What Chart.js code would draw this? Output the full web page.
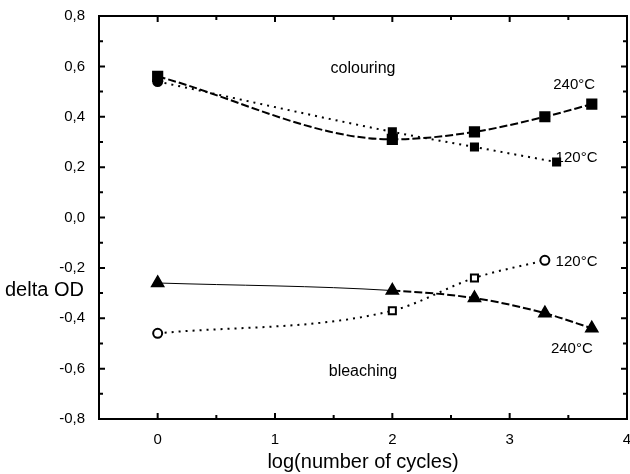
<!DOCTYPE html>
<html>
<head>
<meta charset="utf-8">
<script src="https://cdn.jsdelivr.net/npm/chart.js@4"></script>
<style>
  html, body { margin: 0; padding: 0; background: #fff; }
  #wrap { width: 630px; height: 474px; }
</style>
</head>
<body>
<div id="wrap"><canvas id="chart" width="630" height="474"></canvas></div>
<script>
// values
const xTicks = [0, 1, 2, 3, 4];
const yTicks = [-0.8, -0.6, -0.4, -0.2, 0, 0.2, 0.4, 0.6, 0.8];

const col240x = [0, 2, 2.7, 3.3, 3.7];
const col240y = [0.56, 0.31, 0.34, 0.40, 0.45];

const col120x = [0, 2, 2.7, 3.4];
const col120y = [0.54, 0.34, 0.28, 0.22];

const ble240x = [0, 2, 2.7, 3.3, 3.7];
const ble240y = [-0.26, -0.29, -0.32, -0.38, -0.44];

const ble120x = [0, 2, 2.7, 3.3];
const ble120y = [-0.46, -0.37, -0.24, -0.17];

const labels = [
  { text: 'colouring', x: 1.75, y: 0.59, size: 16 },
  { text: 'bleaching', x: 1.75, y: -0.61, size: 16 },
  { text: '240°C', x: 3.55, y: 0.525, size: 15 },
  { text: '120°C', x: 3.57, y: 0.235, size: 15 },
  { text: '120°C', x: 3.57, y: -0.175, size: 15 },
  { text: '240°C', x: 3.53, y: -0.52, size: 15 }
];

function pts(xs, ys) {
  return xs.map(function(x, i) { return { x: x, y: ys[i] }; });
}

const font = '"Liberation Sans", Arial, sans-serif';

const framePlugin = {
  id: 'frame',
  afterDraw: function(chart) {
    const ctx = chart.ctx;
    const a = chart.chartArea;
    const xs = chart.scales.x;
    const ys = chart.scales.y;
    ctx.save();
    ctx.strokeStyle = '#000';
    ctx.lineWidth = 2;
    ctx.strokeRect(a.left, a.top, a.right - a.left, a.bottom - a.top);
    ctx.beginPath();
    // x ticks (major every 1, minor every 0.5), bottom and top
    for (let v = -0.5; v <= 4.001; v += 0.5) {
      const px = xs.getPixelForValue(v);
      const len = Math.abs(v % 1) < 0.01 ? 6 : 4;
      ctx.moveTo(px, a.bottom); ctx.lineTo(px, a.bottom - len);
      ctx.moveTo(px, a.top); ctx.lineTo(px, a.top + len);
    }
    // y ticks (major every 0.2, minor every 0.1), left and right
    for (let i = -8; i <= 8; i++) {
      const py = ys.getPixelForValue(i / 10);
      const len = i % 2 === 0 ? 6 : 4;
      ctx.moveTo(a.left, py); ctx.lineTo(a.left + len, py);
      ctx.moveTo(a.right, py); ctx.lineTo(a.right - len, py);
    }
    ctx.stroke();

    ctx.fillStyle = '#000';
    ctx.textAlign = 'center';
    ctx.textBaseline = 'middle';
    labels.forEach(function(l) {
      ctx.font = l.size + 'px ' + font;
      ctx.fillText(l.text, xs.getPixelForValue(l.x), ys.getPixelForValue(l.y));
    });

    ctx.font = '20px ' + font;
    ctx.textAlign = 'left';
    ctx.fillText('delta OD', 5, ys.getPixelForValue(-0.29));
    ctx.restore();
  }
};

new Chart(document.getElementById('chart'), {
  type: 'scatter',
  data: {
    datasets: [
      {
        label: '240°C colouring',
        data: pts(col240x, col240y),
        showLine: true,
        cubicInterpolationMode: 'monotone',
        borderColor: '#000',
        borderWidth: 2,
        borderDash: [8, 3],
        pointStyle: 'rect',
        pointRadius: 6.5,
        backgroundColor: '#000'
      },
      {
        label: '120°C colouring',
        data: pts(col120x, col120y),
        showLine: true,
        cubicInterpolationMode: 'monotone',
        borderColor: '#000',
        borderWidth: 2,
        borderDash: [2, 5],
        pointStyle: ['circle', 'rect', 'rect', 'rect'],
        pointRadius: [4.5, 5, 5, 5],
        backgroundColor: '#000'
      },
      {
        label: '240°C bleaching',
        data: pts(ble240x, ble240y),
        showLine: true,
        cubicInterpolationMode: 'monotone',
        borderColor: '#000',
        borderWidth: 1.5,
        segment: {
          borderDash: function(ctx) { return ctx.p0DataIndex === 0 ? [] : [8, 3]; },
          borderWidth: function(ctx) { return ctx.p0DataIndex === 0 ? 1 : 2; }
        },
        pointStyle: 'triangle',
        pointRadius: 7,
        backgroundColor: '#000'
      },
      {
        label: '120°C bleaching',
        data: pts(ble120x, ble120y),
        showLine: true,
        cubicInterpolationMode: 'monotone',
        borderColor: '#000',
        borderWidth: 2,
        borderDash: [2, 5],
        pointStyle: ['circle', 'rect', 'rect', 'circle'],
        pointRadius: [4.5, 5, 5, 4.5],
        pointBorderWidth: 2,
        backgroundColor: '#fff'
      }
    ]
  },
  options: {
    responsive: false,
    animation: false,
    layout: { autoPadding: false, padding: { top: 16, right: 3, left: 0, bottom: 0 } },
    plugins: {
      legend: { display: false },
      tooltip: { enabled: false }
    },
    scales: {
      x: {
        type: 'linear',
        min: -0.5,
        max: 4,
        grid: { display: false },
        border: { display: false },
        afterBuildTicks: function(scale) {
          scale.ticks = xTicks.map(function(v) { return { value: v }; });
        },
        afterFit: function(scale) {
          scale.height = 55;
          scale.paddingRight = 0;
          scale.paddingLeft = 0;
        },
        ticks: {
          color: '#000',
          padding: 4,
          font: { family: font, size: 15 }
        },
        title: {
          display: true,
          text: 'log(number of cycles)',
          color: '#000',
          padding: { top: 2, bottom: 0 },
          font: { family: font, size: 20 }
        }
      },
      y: {
        type: 'linear',
        min: -0.8,
        max: 0.8,
        grid: { display: false },
        border: { display: false },
        afterBuildTicks: function(scale) {
          scale.ticks = yTicks.map(function(v) { return { value: v }; });
        },
        afterFit: function(scale) {
          scale.width = 99;
          scale.paddingTop = 0;
          scale.paddingBottom = 0;
        },
        ticks: {
          color: '#000',
          padding: 6,
          font: { family: font, size: 15 },
          callback: function(v) { return v.toFixed(1).replace('.', ','); }
        }
      }
    }
  },
  plugins: [framePlugin]
});
</script>
</body>
</html>
